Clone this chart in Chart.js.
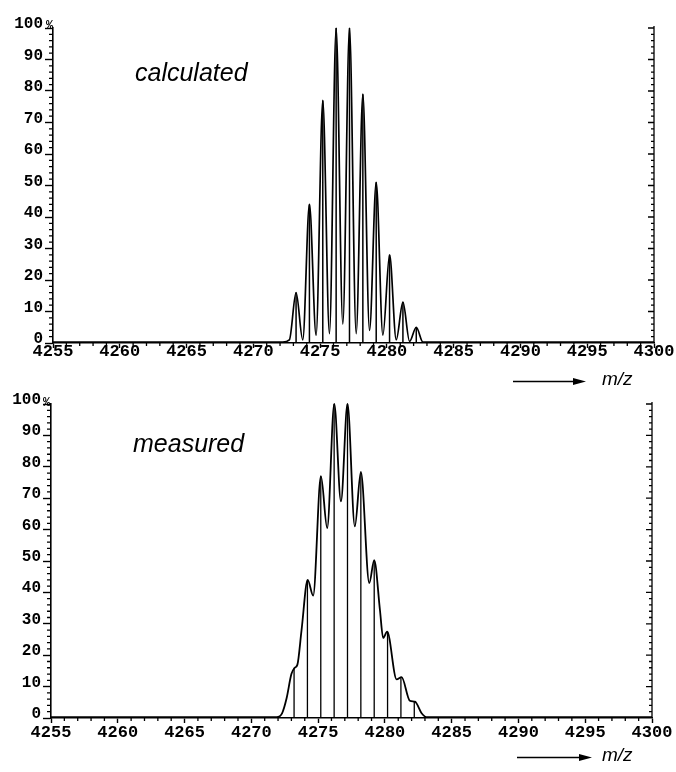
<!DOCTYPE html>
<html>
<head>
<meta charset="utf-8">
<script src="https://cdn.jsdelivr.net/npm/chart.js@4.4.1/dist/chart.umd.min.js"></script>
<style>
html,body{margin:0;padding:0;background:#fff;}
#wrap{position:relative;width:676px;height:772px;overflow:hidden;background:#fff;}
canvas{position:absolute;left:0;}
.lbl{position:absolute;font-family:'Liberation Sans',Arial,sans-serif;font-style:italic;color:#000;line-height:1;white-space:nowrap;}
.pct{position:absolute;font-family:'Liberation Mono',monospace;font-weight:bold;font-size:12px;line-height:1;color:#000;}
</style>
</head>
<body>
<div id="wrap">
  <canvas id="c1" width="676" height="386" style="top:0px"></canvas>
  <canvas id="c2" width="676" height="386" style="top:386px"></canvas>
  <div class="lbl" style="left:135px;top:60px;font-size:25px">calculated</div>
  <div class="lbl" style="left:133px;top:431px;font-size:25px">measured</div>
  <div class="lbl" style="left:602px;top:369px;font-size:19px">m/z</div>
  <div class="lbl" style="left:602px;top:745px;font-size:19px">m/z</div>
  <div class="pct" style="left:46px;top:20px">%</div>
  <div class="pct" style="left:43px;top:397px">%</div>
</div>
<script>
// ---- tick labels ----
const xTickValues = [4255, 4260, 4265, 4270, 4275, 4280, 4285, 4290, 4295, 4300];
const xTickLabels = ['4255', '4260', '4265', '4270', '4275', '4280', '4285', '4290', '4295', '4300'];
const yTickValues = [0, 10, 20, 30, 40, 50, 60, 70, 80, 90, 100];
const yTickLabels = ['0', '10', '20', '30', '40', '50', '60', '70', '80', '90', '100'];
const xMinorStep = 1;
const yMinorStep = 2;

// ---- calculated isotope pattern ----
const calcStickMz  = [4273.2, 4274.2, 4275.2, 4276.2, 4277.2, 4278.2, 4279.2, 4280.2, 4281.2, 4282.2];
const calcStickPct = [16, 44, 77, 100, 100, 79, 51, 28, 13, 5];
const calcProfileMz  = [4255, 4272.2, 4272.7, 4273.2, 4273.7, 4274.2, 4274.7, 4275.2, 4275.7, 4276.2, 4276.7,
                        4277.2, 4277.7, 4278.2, 4278.7, 4279.2, 4279.7, 4280.2, 4280.7, 4281.2, 4281.7, 4282.2, 4282.7, 4300];
const calcProfilePct = [0.3, 0.3, 1, 16, 1, 44, 2.5, 77, 3, 100, 6,
                        100, 3, 79, 4, 51, 2.5, 28, 1, 13, 0.5, 5, 0.3, 0.3];

// ---- measured spectrum ----
const measStickMz  = [4273.2, 4274.2, 4275.2, 4276.2, 4277.2, 4278.2, 4279.2, 4280.2, 4281.2, 4282.2];
const measStickPct = [16, 44, 77, 100, 100, 78, 50, 27.5, 13, 5.2];
const measProfileMz  = [4255, 4271.9, 4272.3, 4272.64, 4273.0, 4273.25, 4273.45, 4273.76, 4274.22, 4274.63,
                        4275.21, 4275.68, 4276.21, 4276.71, 4277.2, 4277.75, 4278.2, 4278.83, 4279.2, 4279.63,
                        4279.87, 4280.17, 4280.88, 4281.25, 4281.87, 4282.25, 4282.75, 4283.1, 4300];
const measProfilePct = [0.3, 0.3, 1.5, 6.3, 14, 16, 17, 28, 44, 39,
                        77, 60.5, 100, 69, 100, 61, 78.4, 43, 50.3, 34.4,
                        25.5, 27.5, 12.3, 13, 5.5, 5.2, 1.5, 0.3, 0.3];

function pts(xs, ys) { return xs.map((x, i) => ({ x: x, y: ys[i] })); }
function sticks(xs, ys) {
  const out = [];
  xs.forEach((x, i) => { out.push({ x: x, y: 0 }, { x: x, y: ys[i] }, { x: x, y: null }); });
  return out;
}

const decor = {
  id: 'decor',
  afterDraw(chart, args, opts) {
    const ctx = chart.ctx, a = chart.chartArea, x = chart.scales.x, y = chart.scales.y;
    ctx.save();
    ctx.strokeStyle = '#000';
    ctx.lineWidth = 1.3;
    ctx.beginPath();
    for (let v = 0; v <= 100; v += yMinorStep) {
      if (v % 10 === 0) continue;
      const py = y.getPixelForValue(v);
      ctx.moveTo(a.left, py); ctx.lineTo(a.left - 4, py);
    }
    ctx.moveTo(a.right, y.getPixelForValue(0)); ctx.lineTo(a.right, y.getPixelForValue(100) - 2);
    for (let v = yMinorStep; v <= 100; v += yMinorStep) {
      const py = y.getPixelForValue(v);
      const l = v % 10 === 0 ? 6 : 3;
      ctx.moveTo(a.right, py); ctx.lineTo(a.right - l, py);
    }
    for (let v = 4255; v <= 4300; v += xMinorStep) {
      if ((v - 4255) % 5 === 0) continue;
      const px = x.getPixelForValue(v);
      ctx.moveTo(px, a.bottom); ctx.lineTo(px, a.bottom + 3);
    }
    ctx.stroke();
    // arrow
    const ar = opts.arrow;
    ctx.lineWidth = 1.6;
    ctx.beginPath();
    ctx.moveTo(ar.x1, ar.y); ctx.lineTo(ar.x2 - 10, ar.y);
    ctx.stroke();
    ctx.fillStyle = '#000';
    ctx.beginPath();
    ctx.moveTo(ar.x2, ar.y); ctx.lineTo(ar.x2 - 13, ar.y - 3.5); ctx.lineTo(ar.x2 - 13, ar.y + 3.5);
    ctx.closePath(); ctx.fill();
    ctx.restore();
  }
};

function makeChart(id, profMz, profPct, stMz, stPct, o) {
  return new Chart(document.getElementById(id), {
    type: 'line',
    data: {
      datasets: [
        { data: pts(profMz, profPct), borderColor: '#000', borderWidth: o.lw, pointRadius: 0,
          cubicInterpolationMode: 'monotone', fill: false, clip: false },
        { data: sticks(stMz, stPct), borderColor: '#000', borderWidth: o.sw, pointRadius: 0,
          tension: 0, spanGaps: false, fill: false, clip: false }
      ]
    },
    options: {
      responsive: false,
      devicePixelRatio: 1,
      animation: false,
      events: [],
      layout: { padding: o.pad },
      plugins: { legend: { display: false }, tooltip: { enabled: false }, decor: { arrow: o.arrow } },
      scales: {
        x: {
          type: 'linear', min: 4255, max: 4300,
          afterFit: (s) => { s.height = 30; },
          ticks: {
            stepSize: 5, color: '#000', padding: o.xpad, maxRotation: 0, autoSkip: false,
            font: { family: "'Liberation Mono', monospace", size: 17, weight: 'bold' },
            callback: (v) => { const i = xTickValues.indexOf(v); return i >= 0 ? xTickLabels[i] : ''; }
          },
          grid: { drawOnChartArea: false, drawTicks: true, tickLength: 5, tickColor: '#000', tickWidth: 1.4 },
          border: { display: true, color: '#000', width: 1.6 }
        },
        y: {
          min: 0, max: 100,
          afterFit: (s) => { s.width = o.yw; },
          ticks: {
            stepSize: 10, color: '#000', padding: 2, labelOffset: -4,
            font: { family: "'Liberation Mono', monospace", size: 16, weight: 'bold' },
            callback: (v) => { const i = yTickValues.indexOf(v); return i >= 0 ? yTickLabels[i] : ''; }
          },
          grid: { drawOnChartArea: false, drawTicks: true, tickLength: 8, tickColor: '#000', tickWidth: 1.4 },
          border: { display: true, color: '#000', width: 1.6 }
        }
      }
    },
    plugins: [decor]
  });
}

makeChart('c1', calcProfileMz, calcProfilePct, calcStickMz, calcStickPct, {
  pad: { top: 28, left: 0, right: 22, bottom: 13 }, yw: 53, xpad: -6, lw: 1.7, sw: 1.5,
  arrow: { x1: 513, x2: 586, y: 381.5 }
});
makeChart('c2', measProfileMz, measProfilePct, measStickMz, measStickPct, {
  pad: { top: 18, left: 0, right: 24, bottom: 24 }, yw: 51, xpad: 0, lw: 1.8, sw: 1.3,
  arrow: { x1: 517, x2: 592, y: 371.5 }
});
</script>
</body>
</html>
